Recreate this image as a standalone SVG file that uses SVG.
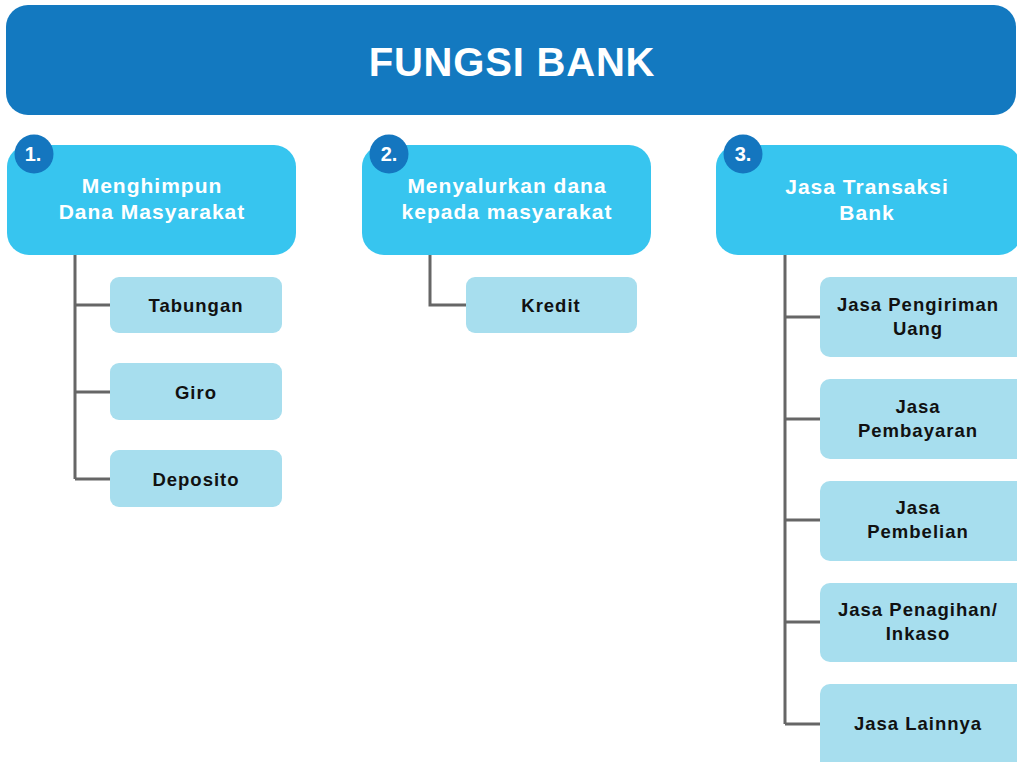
<svg xmlns="http://www.w3.org/2000/svg" width="1017" height="762" viewBox="0 0 1017 762">
  <style>
    text { font-family: "Liberation Sans", Arial, sans-serif; font-weight: bold; text-anchor: middle; }
    .title { fill: #ffffff; font-size: 40px; letter-spacing: 0.8px; }
    .main { fill: #37C5EF; }
    .mainText { fill: #ffffff; font-size: 21px; letter-spacing: 1px; }
    .badge { fill: #1476BF; }
    .badgeText { fill: #ffffff; font-size: 20px; }
    .sub { fill: #A7DEEE; }
    .subText { fill: #111111; font-size: 18.5px; letter-spacing: 1px; }
    .conn { fill: none; stroke: #666666; stroke-width: 3; }
  </style>

  <!-- header -->
  <g id="header">
    <rect x="6" y="5" width="1010" height="110" rx="22" fill="#1379C0"/>
    <text class="title" x="512" y="76">FUNGSI BANK</text>
  </g>

  <!-- connectors -->
  <g id="connectors">
    <path class="conn" d="M75 255 V479 M75 305 H110 M75 392 H110 M75 479 H110"/>
    <path class="conn" d="M430 255 V305 H466"/>
    <path class="conn" d="M785 255 V724 M785 317 H820 M785 419 H820 M785 520 H820 M785 622 H820 M785 724 H820"/>
  </g>

  <!-- column 1 -->
  <g id="fungsi-1">
    <rect class="main" x="7" y="145" width="289" height="110" rx="22"/>
    <circle class="badge" cx="34" cy="154" r="19.5"/>
    <text class="badgeText" x="33" y="161">1.</text>
    <text class="mainText" x="152" y="193">Menghimpun</text>
    <text class="mainText" x="152" y="219">Dana Masyarakat</text>
  </g>
  <g id="tabungan">
    <rect class="sub" x="110" y="277" width="172" height="56" rx="9"/>
    <text class="subText" x="196" y="312">Tabungan</text>
  </g>
  <g id="giro">
    <rect class="sub" x="110" y="363" width="172" height="57" rx="9"/>
    <text class="subText" x="196" y="399">Giro</text>
  </g>
  <g id="deposito">
    <rect class="sub" x="110" y="450" width="172" height="57" rx="9"/>
    <text class="subText" x="196" y="486">Deposito</text>
  </g>

  <!-- column 2 -->
  <g id="fungsi-2">
    <rect class="main" x="362" y="145" width="289" height="110" rx="22"/>
    <circle class="badge" cx="389" cy="154" r="19.5"/>
    <text class="badgeText" x="389" y="161">2.</text>
    <text class="mainText" x="507" y="193">Menyalurkan dana</text>
    <text class="mainText" x="507" y="219">kepada masyarakat</text>
  </g>
  <g id="kredit">
    <rect class="sub" x="466" y="277" width="171" height="56" rx="9"/>
    <text class="subText" x="551" y="312">Kredit</text>
  </g>

  <!-- column 3 -->
  <g id="fungsi-3">
    <rect class="main" x="716" y="145" width="305" height="110" rx="22"/>
    <circle class="badge" cx="743" cy="154" r="19.5"/>
    <text class="badgeText" x="743" y="161">3.</text>
    <text class="mainText" x="867" y="194">Jasa Transaksi</text>
    <text class="mainText" x="867" y="220">Bank</text>
  </g>
  <g id="jasa-pengiriman">
    <rect class="sub" x="820" y="277" width="210" height="80" rx="10"/>
    <text class="subText" x="918" y="311">Jasa Pengiriman</text>
    <text class="subText" x="918" y="335">Uang</text>
  </g>
  <g id="jasa-pembayaran">
    <rect class="sub" x="820" y="379" width="210" height="80" rx="10"/>
    <text class="subText" x="918" y="413">Jasa</text>
    <text class="subText" x="918" y="437">Pembayaran</text>
  </g>
  <g id="jasa-pembelian">
    <rect class="sub" x="820" y="481" width="210" height="80" rx="10"/>
    <text class="subText" x="918" y="514">Jasa</text>
    <text class="subText" x="918" y="538">Pembelian</text>
  </g>
  <g id="jasa-penagihan">
    <rect class="sub" x="820" y="583" width="210" height="79" rx="10"/>
    <text class="subText" x="918" y="616">Jasa Penagihan/</text>
    <text class="subText" x="918" y="640">Inkaso</text>
  </g>
  <g id="jasa-lainnya">
    <rect class="sub" x="820" y="684" width="210" height="90" rx="10"/>
    <text class="subText" x="918" y="730">Jasa Lainnya</text>
  </g>
</svg>
